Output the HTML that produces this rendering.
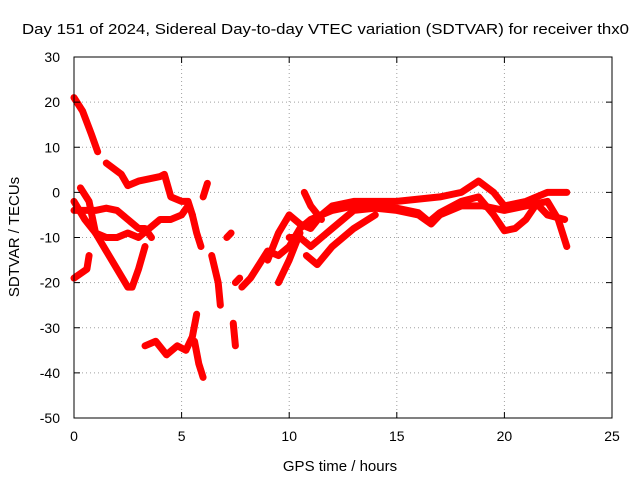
<!DOCTYPE html>
<html><head><meta charset="utf-8"><style>
body{margin:0;background:#fff;}
svg{font-family:"Liberation Sans",sans-serif;font-size:14px;}
</style></head><body>
<svg id="chart" width="640" height="480" viewBox="0 0 640 480">
<rect width="640" height="480" fill="#fff"/>
<text x="22" y="34" textLength="607" lengthAdjust="spacingAndGlyphs" font-size="15">Day 151 of 2024, Sidereal Day-to-day VTEC variation (SDTVAR) for receiver thx0</text>
<g id="grid"></g><g id="marks"></g><g id="axes"></g>
<rect x="74" y="57" width="538" height="361" fill="none" stroke="#000"/>
<text x="340" y="471" text-anchor="middle" font-size="15">GPS time / hours</text>
<text transform="translate(19,237) rotate(-90)" text-anchor="middle" font-size="15">SDTVAR / TECUs</text>
</svg>
<script>
const xTicks=[0,5,10,15,20,25];
const yTicks=[30,20,10,0,-10,-20,-30,-40,-50];
const track1=[[0,21],[0.4,18],[0.8,13],[1.1,9]];
const track2=[[1.5,6.5],[2.2,4],[2.5,1.5],[3,2.5],[3.5,3],[4,3.5],[4.2,4],[4.5,-1],[5,-2],[5.3,-2],[5.5,-5]];
const track3=[[0,-2],[0.5,-6],[1,-9],[1.5,-13],[2,-17],[2.5,-21],[2.7,-21],[3,-17],[3.3,-12]];
const track4=[[0.3,1],[0.7,-2],[1,-9],[1.5,-10],[2,-10],[2.5,-9],[3,-10],[3.5,-8],[4,-6],[4.5,-6],[5,-5],[5.3,-3]];
const track5=[[0,-4],[1,-4],[1.5,-3.5],[2,-4],[2.5,-6],[3,-8],[3.3,-8],[3.6,-10]];
const track6=[[0,-19],[0.6,-17],[0.7,-14]];
const track7=[[3.3,-34],[3.8,-33],[4.3,-36],[4.8,-34],[5.2,-35],[5.5,-32],[5.7,-27]];
const track8=[[5.5,-5],[5.7,-9],[5.9,-12]];
const track9=[[5.6,-33],[5.8,-38],[6,-41]];
const track10=[[6.2,2],[6.0,-1]];
const track11=[[6.4,-14],[6.7,-20],[6.8,-25]];
const track12=[[7.4,-29],[7.5,-34]];
const track13=[[7.1,-10],[7.3,-9]];
const track14=[[7.8,-21],[8.2,-19],[8.6,-16],[9,-13],[9.5,-14],[10,-12],[10.5,-8],[11,-6],[11.5,-5],[12,-4],[13,-3],[14,-3],[15,-3.5],[16,-4.5],[16.5,-6.5],[17,-4.5],[18,-2],[18.8,-1],[19.5,-5],[20,-8.5],[20.5,-8],[21,-6],[21.5,-2.5],[22,-5],[22.8,-6]];
const track15=[[10,-10],[10.5,-10],[11,-12],[11.5,-10],[12,-8],[12.5,-6],[13,-4],[14,-3.5],[15,-4],[16,-5],[16.6,-7],[17,-5],[18,-3],[19,-3],[20,-4],[21,-3],[22,-2],[22.5,-6],[22.9,-12]];
const track16=[[9,-15],[9.5,-9],[10,-5],[10.5,-7],[11,-8],[11.5,-5],[12,-3],[13,-2],[15,-2],[17,-1],[18,0],[18.8,2.5],[19.5,0],[20,-3],[21,-2],[21.5,-1],[22,0],[22.9,0]];
const track17=[[9.5,-20],[10,-15],[10.5,-9]];
const track18=[[10.8,-14],[11.3,-16],[12,-12],[13,-8],[14,-5]];
const track19=[[10.7,0],[11,-3],[11.5,-6]];
const track20=[[7.5,-20],[7.7,-19]];
const tracks=[track1,track2,track3,track4,track5,track6,track7,track8,track9,track10,track11,track12,track13,track14,track15,track16,track17,track18,track19,track20];
const NS='http://www.w3.org/2000/svg';
const X=v=>74+v*(538/25);
const Y=v=>57+(30-v)*(361/80);
const grid=document.getElementById('grid'),axes=document.getElementById('axes'),marks=document.getElementById('marks');
function mk(tag,attrs,parent){const e=document.createElementNS(NS,tag);for(const k in attrs)e.setAttribute(k,attrs[k]);parent.appendChild(e);return e;}
xTicks.forEach(t=>{
 if(t>0&&t<25){const g=mk('line',{x1:X(t),x2:X(t),y1:57,y2:418,stroke:'#a0a0a0','stroke-dasharray':'1,3'},grid);
 
 }
 const l=mk('text',{x:X(t),y:441,'text-anchor':'middle'},axes);l.textContent=t;
 
 
 mk('line',{x1:X(t),x2:X(t),y1:418,y2:412,stroke:'#000'},axes);
 mk('line',{x1:X(t),x2:X(t),y1:57,y2:63,stroke:'#000'},axes);
});
yTicks.forEach(t=>{
 if(t<30&&t>-50){const g=mk('line',{x1:74,x2:612,y1:Y(t),y2:Y(t),stroke:'#a0a0a0','stroke-dasharray':'1,3'},grid);
 
 }
 const l=mk('text',{x:60,y:Y(t)+5,'text-anchor':'end'},axes);l.textContent=t;
 
 
 mk('line',{x1:74,x2:80,y1:Y(t),y2:Y(t),stroke:'#000'},axes);
 mk('line',{x1:612,x2:606,y1:Y(t),y2:Y(t),stroke:'#000'},axes);
});
tracks.forEach((tr,i)=>{
 const p=mk('polyline',{points:tr.map(d=>X(d[0])+','+Y(d[1])).join(' '),fill:'none',stroke:'#ff0000','stroke-width':7,'stroke-linejoin':'round','stroke-linecap':'round'},marks);
 
 
});
</script>
</body></html>
